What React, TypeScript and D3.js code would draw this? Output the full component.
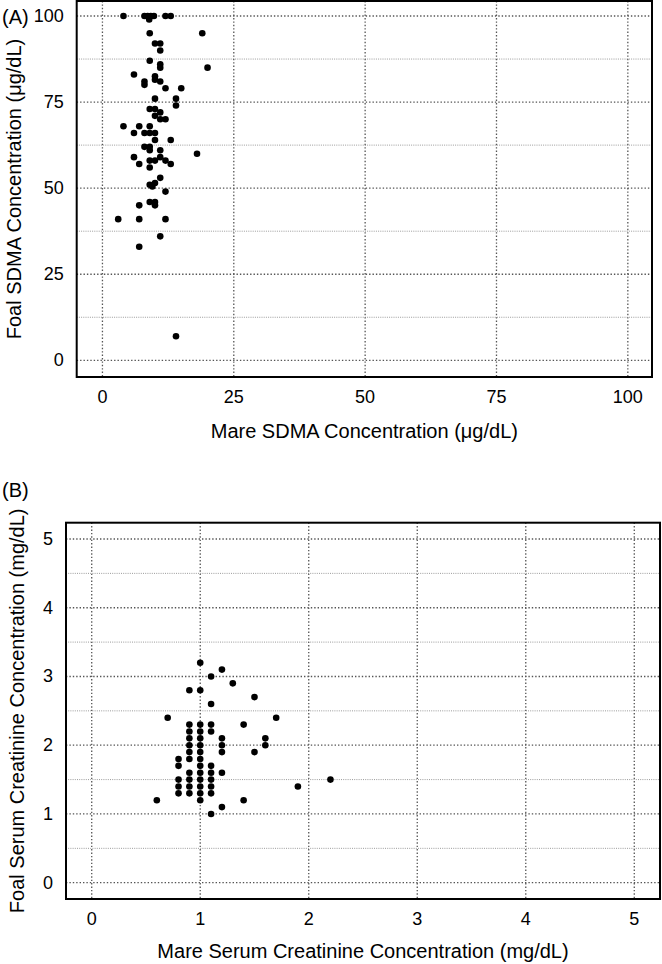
import React from "react";
import * as d3 from "d3";

// Panel A: SDMA (µg/dL)
const sdmaMare = [4, 8, 8.6, 9.2, 9.8, 12, 13, 8.9, 9, 19, 10, 11, 11, 9, 11, 11, 20, 6, 10, 10, 11, 8, 8, 12, 15, 10, 14, 14, 9, 10, 11, 10, 11, 12, 4, 7, 9, 6, 8, 9, 10, 10, 13, 8, 9, 9, 11, 18, 6, 11, 12, 13, 9, 10, 7, 9, 11, 9, 10, 9.5, 12, 7, 9, 10, 10, 3, 7, 12, 11, 7, 14];
const sdmaFoal = [100, 100, 100, 100, 100, 100, 100, 99, 95, 95, 92, 92, 90, 87, 86, 85, 85, 83, 82.5, 81.5, 81, 81, 80, 79, 79, 76, 76, 74, 73, 73, 72, 71, 70, 70, 68, 68, 68, 66, 66, 66, 66, 64, 64, 62, 62, 61, 61, 60, 59, 59, 58, 57, 58, 58, 57, 56, 53, 51, 51.5, 50.5, 49, 45, 46, 46, 45, 41, 41, 41, 36, 33, 7];
const sdmaTicks = [0, 25, 50, 75, 100];
const sdmaMinor = [12.5, 37.5, 62.5, 87.5];

// Panel B: creatinine (mg/dL)
const creatMare = [1.0, 1.2, 1.1, 1.3, 0.9, 1.0, 1.5, 1.1, 0.7, 1.7, 0.9, 1.0, 1.1, 1.4, 0.9, 1.0, 1.1, 0.9, 1.0, 1.2, 1.6, 0.9, 1.0, 1.2, 1.6, 0.9, 1.0, 1.2, 1.5, 0.8, 0.9, 1.0, 0.8, 1.0, 1.1, 0.9, 1.0, 1.1, 1.2, 0.8, 0.9, 1.0, 1.1, 2.2, 0.8, 0.9, 1.0, 1.1, 1.9, 0.8, 0.9, 1.0, 1.1, 0.6, 1.0, 1.4, 1.2, 1.1];
const creatFoal = [3.2, 3.1, 3.0, 2.9, 2.8, 2.8, 2.7, 2.6, 2.4, 2.4, 2.3, 2.3, 2.3, 2.3, 2.2, 2.2, 2.2, 2.1, 2.1, 2.1, 2.1, 2.0, 2.0, 2.0, 2.0, 1.9, 1.9, 1.9, 1.9, 1.8, 1.8, 1.8, 1.7, 1.7, 1.7, 1.6, 1.6, 1.6, 1.6, 1.5, 1.5, 1.5, 1.5, 1.5, 1.4, 1.4, 1.4, 1.4, 1.4, 1.3, 1.3, 1.3, 1.3, 1.2, 1.2, 1.2, 1.1, 1.0];
const creatTicks = [0, 1, 2, 3, 4, 5];
const creatMinor = [0.5, 1.5, 2.5, 3.5, 4.5];

const FONT = "'Liberation Sans', Arial, Helvetica, sans-serif";

type PanelProps = {
  xs: number[];
  ys: number[];
  xDomain: [number, number];
  yDomain: [number, number];
  left: number; right: number; top: number; bottom: number;
  ticks: number[];
  minor: number[];
  xTitle: string;
  yTitle: string;
  tag: string;
  tagY: number;
  yTitleX: number;
  xLabelY: number;
  xTitleY: number;
};

function Panel(p: PanelProps) {
  const x = d3.scaleLinear().domain(p.xDomain).range([p.left, p.right]);
  const y = d3.scaleLinear().domain(p.yDomain).range([p.bottom, p.top]);
  const cx = (p.left + p.right) / 2;
  const cy = (p.top + p.bottom) / 2;
  return (
    <g>
      {p.minor.map((v) => (
        <line key={"mn" + v} x1={p.left} x2={p.right} y1={y(v)} y2={y(v)}
          stroke="#9a9a9a" strokeWidth={1} strokeDasharray="1 1.2" />
      ))}
      {p.ticks.map((v) => (
        <line key={"hy" + v} x1={p.left} x2={p.right} y1={y(v)} y2={y(v)}
          stroke="#555" strokeWidth={1.3} strokeDasharray="1.4 2" />
      ))}
      {p.ticks.map((v) => (
        <line key={"vx" + v} x1={x(v)} x2={x(v)} y1={p.top} y2={p.bottom}
          stroke="#555" strokeWidth={1.3} strokeDasharray="1.4 2" />
      ))}
      {p.xs.map((v, i) => (
        <circle key={"pt" + i} cx={x(v)} cy={y(p.ys[i])} r={3.3} fill="#000" />
      ))}
      <rect x={p.left} y={p.top} width={p.right - p.left} height={p.bottom - p.top}
        fill="none" stroke="#000" strokeWidth={2} />
      {p.ticks.map((v) => (
        <text key={"yl" + v} x={p.left - 13} y={y(v)} textAnchor="end" dominantBaseline="central"
          fontFamily={FONT} fontSize={18}>{v}</text>
      ))}
      {p.ticks.map((v) => (
        <text key={"xl" + v} x={x(v)} y={p.xLabelY} textAnchor="middle" dominantBaseline="central"
          fontFamily={FONT} fontSize={18}>{v}</text>
      ))}
      <text x={cx} y={p.xTitleY} textAnchor="middle" dominantBaseline="central"
        fontFamily={FONT} fontSize={20}>{p.xTitle}</text>
      <text transform={`translate(${p.yTitleX},${cy}) rotate(-90)`} textAnchor="middle" dominantBaseline="central"
        fontFamily={FONT} fontSize={20}>{p.yTitle}</text>
      <text x={2} y={p.tagY} dominantBaseline="central" fontFamily={FONT} fontSize={20}>{p.tag}</text>
    </g>
  );
}

export default function App() {
  return (
    <svg width={662} height={964} style={{ position: "absolute", left: 0, top: 0, background: "#fff" }}>
      <rect x={0} y={0} width={662} height={964} fill="#fff" />
      <Panel
        xs={sdmaMare} ys={sdmaFoal}
        xDomain={[-4.9, 104.6]} yDomain={[-4.85, 104.36]}
        left={76.7} right={652} top={1} bottom={377}
        ticks={sdmaTicks} minor={sdmaMinor}
        xTitle="Mare SDMA Concentration (μg/dL)"
        yTitle="Foal SDMA Concentration (μg/dL)"
        tag="(A)" tagY={17} yTitleX={14} xLabelY={397} xTitleY={431}
      />
      <Panel
        xs={creatMare} ys={creatFoal}
        xDomain={[-0.237, 5.237]} yDomain={[-0.237, 5.237]}
        left={66} right={660} top={522.7} bottom={899}
        ticks={creatTicks} minor={creatMinor}
        xTitle="Mare Serum Creatinine Concentration (mg/dL)"
        yTitle="Foal Serum Creatinine Concentration (mg/dL)"
        tag="(B)" tagY={490} yTitleX={17} xLabelY={919} xTitleY={951}
      />
    </svg>
  );
}
